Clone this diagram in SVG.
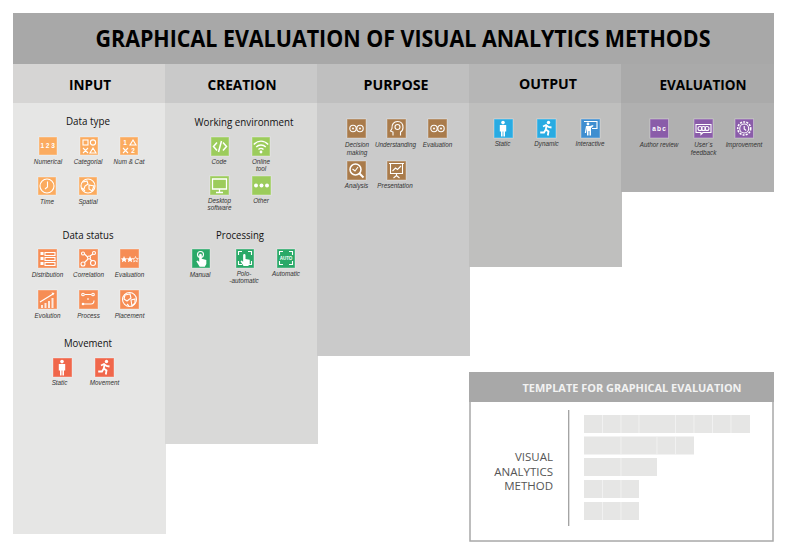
<svg xmlns="http://www.w3.org/2000/svg" width="788" height="558" viewBox="0 0 788 558">
<style>
text{font-family:"Open Sans","Noto Sans","Liberation Sans",sans-serif;fill:#111}
.t{font-weight:700;font-size:22.500px;text-anchor:middle;fill:#000}
.h{font-weight:700;font-size:14px;text-anchor:middle;fill:#000}
.s{font-weight:500;font-size:10.500px;text-anchor:middle;fill:#111}
.l{font-family:"Liberation Sans",Arial,sans-serif;font-style:italic;font-size:6.300px;text-anchor:middle;fill:#333}
.i{stroke:#fff;stroke-opacity:.35;stroke-width:1}
.o1{fill:#fbab5f}.o2{fill:#f68d55}.o3{fill:#f0674b}.g1{fill:#9ccc5c}.g2{fill:#2aa968}.b{fill:#a97b4b}.c{fill:#29abe2}.c2{fill:#3f8ed0}.p{fill:#8a5ca9}
.w{fill:none;stroke:#fff;stroke-width:1.100}
.f{fill:#fff}
.n{fill:#fff;font-family:"Liberation Sans",sans-serif;font-weight:700;font-size:6.500px;text-anchor:middle}
.bar{fill:#e6e6e5}.cut{stroke:#f4f4f4;stroke-width:.8}
</style>
<defs>
<g id="person"><circle class="f" cx="9" cy="3.600" r="1.800"/><path class="f" d="M5.800 6h6.400v6.500h-1.200v5H9.400v-5H8.600v5H7v-5H5.800z"/></g>
<g id="runner"><circle class="f" cx="11.500" cy="3.500" r="1.700"/><path class="w" style="stroke-width:1.800" d="M14.500 8.500 11.500 8 9 6 6 7.500M9.500 6.500 8.800 10.500 11.500 12.500 10.800 16.500M8.800 10.500 7 13.500 3.200 13.500"/></g>
<g id="gears"><circle class="w" cx="5.500" cy="9" r="3.200"/><circle class="w" cx="12.500" cy="9" r="3.200"/><circle class="f" cx="5.500" cy="9" r="1"/><circle class="f" cx="12.500" cy="9" r="1"/></g>
<g id="bracket"><path class="w" d="M2.500 6V2.500H6M12 2.500h3.500V6M15.500 12v3.500H12M6 15.500H2.500V12"/></g>
<g id="hand"><path class="f" d="M7.600 6.500a1 1 0 0 1 2 0v3l3.500.8v3.200l-1.200 2H8L5.400 11.400l1.200-.6 1 1.200z"/></g>
</defs>

<g id="backgrounds">
<rect x="13" y="64" width="153" height="470" fill="#e6e6e5"/>
<rect x="165" y="64" width="153" height="380" fill="#d9d9d8"/>
<rect x="317" y="64" width="153" height="292" fill="#cacaca"/>
<rect x="469" y="64" width="153" height="203" fill="#bfbfbe"/>
<rect x="621" y="64" width="153" height="128" fill="#b0b0b0"/>
<rect x="13" y="64" width="153" height="39" fill="#d6d5d4"/>
<rect x="165" y="64" width="153" height="39" fill="#c9c9c9"/>
<rect x="317" y="64" width="153" height="39" fill="#bfbfbf"/>
<rect x="469" y="64" width="153" height="39" fill="#b6b6b6"/>
<rect x="621" y="64" width="153" height="39" fill="#aaaaaa"/>
<rect x="13" y="13" width="761" height="51" fill="#a8a8a8"/>
</g>

<text class="t" x="403" y="46.500" textLength="615" lengthAdjust="spacingAndGlyphs">GRAPHICAL EVALUATION OF VISUAL ANALYTICS METHODS</text>
<text class="h" x="90" y="90" textLength="42" lengthAdjust="spacingAndGlyphs">INPUT</text>
<text class="h" x="242" y="90" textLength="69" lengthAdjust="spacingAndGlyphs">CREATION</text>
<text class="h" x="396" y="90" textLength="65" lengthAdjust="spacingAndGlyphs">PURPOSE</text>
<text class="h" x="548" y="89" textLength="58" lengthAdjust="spacingAndGlyphs">OUTPUT</text>
<text class="h" x="703" y="90" textLength="87" lengthAdjust="spacingAndGlyphs">EVALUATION</text>

<text class="s" x="88" y="125" textLength="44" lengthAdjust="spacingAndGlyphs">Data type</text>
<text class="s" x="88" y="239" textLength="51" lengthAdjust="spacingAndGlyphs">Data status</text>
<text class="s" x="88" y="347" textLength="48" lengthAdjust="spacingAndGlyphs">Movement</text>
<text class="s" x="244" y="126" textLength="99" lengthAdjust="spacingAndGlyphs">Working environment</text>
<text class="s" x="240" y="239" textLength="48" lengthAdjust="spacingAndGlyphs">Processing</text>

<g id="numerical" transform="translate(39,137)"><rect class="i o1" width="18" height="18"/><text class="n" x="9.500" y="11.300" style="letter-spacing:1.700px">123</text><text class="l" x="9" y="27">Numerical</text></g>
<g id="categorial" transform="translate(80,137)"><rect class="i o1" width="18" height="18"/><rect class="w" x="3" y="3" width="5" height="5"/><circle class="w" cx="13" cy="5.500" r="2.600"/><path class="w" d="M3 11l5 5M8 11l-5 5M13 11l3 5h-6z"/><text class="l" x="8" y="27">Categorial</text></g>
<g id="num-cat" transform="translate(120,137)"><rect class="i o1" width="18" height="18"/><text class="n" x="5" y="8">1</text><path class="w" d="M13 3l3 5h-6z"/><path class="w" d="M3 11l5 5M8 11l-5 5"/><text class="n" x="13" y="16">2</text><text class="l" x="9" y="27">Num &amp; Cat</text></g>
<g id="time" transform="translate(38,177)"><rect class="i o1" width="18" height="18"/><circle class="w" cx="9" cy="9" r="7"/><path class="w" d="M9.500 4.500V10L7 12"/><text class="l" x="9" y="27">Time</text></g>
<g id="spatial" transform="translate(79,177)"><rect class="i o1" width="18" height="18"/><circle class="w" cx="9" cy="9" r="7"/><path class="w" d="M4 5l4-1 1 3-3 2-1 3M10 8l5 1-2 5-3-2zM3 11l3 3"/><text class="l" x="9" y="27">Spatial</text></g>

<g id="distribution" transform="translate(38,249)"><rect class="i o2" width="19" height="19"/><path class="f" d="M2.500 3h3v3h-3zM2.500 8h3v3h-3zM2.500 13h3v3h-3z"/><path class="w" d="M7 3.500h10v3H7zM7 8.500h10v3H7zM7 13.500h10v3H7z"/><text class="l" x="9.500" y="28">Distribution</text></g>
<g id="correlation" transform="translate(79,249)"><rect class="i o2" width="19" height="19"/><circle class="w" cx="4" cy="4.500" r="1.500"/><circle class="w" cx="4" cy="15" r="2"/><circle class="w" cx="14" cy="14" r="2.500"/><circle class="w" cx="15" cy="4" r="1.500"/><circle class="w" cx="10" cy="8.500" r="1.500"/><path class="w" d="M5.500 5l3 3M11 10l2 2M11 7l3-2M5.500 13.500L9 10"/><text class="l" x="9.500" y="28">Correlation</text></g>
<g id="status-evaluation" transform="translate(120,249)"><rect class="i o2" width="19" height="19"/><path class="f" d="M4 7l1 2.300 2.300.2-1.700 1.500.5 2.300L4 12l-2.100 1.300.5-2.300L.8 9.500l2.300-.2zM10 7l1 2.300 2.300.2-1.700 1.500.5 2.300L10 12l-2.100 1.300.5-2.300-1.700-1.500 2.300-.2z"/><path class="w" style="stroke-width:.7" d="M15.500 7.500l.8 2 2 .1-1.500 1.300.5 2-1.800-1.100-1.800 1.100.5-2-1.500-1.300 2-.1z"/><text class="l" x="9.500" y="28">Evaluation</text></g>
<g id="evolution" transform="translate(38,290)"><rect class="i o2" width="19" height="19"/><path class="f" opacity=".8" d="M3 15h2v3H3zM6.500 13h2v5h-2zM10 11h2v7h-2zM13.500 8h2v10h-2z"/><path class="w" d="M2 12L15 4"/><path class="f" d="M16.500 3l-3-.5 1.500 3z"/><text class="l" x="9.500" y="28">Evolution</text></g>
<g id="process" transform="translate(79,290)"><rect class="i o2" width="19" height="19"/><circle class="w" cx="4" cy="4.500" r="1.300"/><circle class="w" cx="14" cy="4.500" r="1.300"/><path class="w" d="M6 4.500h6M9 8v2M5 14h7c2 0 3-1.500 3-3.500"/><circle class="f" cx="4" cy="14" r="1.300"/><text class="l" x="9.500" y="28">Process</text></g>
<g id="placement" transform="translate(120,290)"><rect class="i o2" width="19" height="19"/><circle class="w" cx="9.500" cy="9.500" r="7"/><path class="w" d="M5 5l5-1 1 4-4 3-3-2zM11 10l4-1 0 4-3 3zM7 14l2 2"/><text class="l" x="9.500" y="28">Placement</text></g>

<g id="move-static" transform="translate(53,358)"><rect class="i o3" width="19" height="19"/><use href="#person"/><text class="l" x="6.500" y="27">Static</text></g>
<g id="move-movement" transform="translate(95,358)"><rect class="i o3" width="19" height="19"/><use href="#runner"/><text class="l" x="9.500" y="27">Movement</text></g>

<g id="code" transform="translate(211,137)"><rect class="i g1" width="18" height="19"/><path class="w" style="stroke-width:1.500" d="M6 5.500L2.500 9.500 6 13.500M12 5.500l3.500 4-3.500 4M10.500 4L7.500 15"/><text class="l" x="8" y="27">Code</text></g>
<g id="online-tool" transform="translate(252,137)"><rect class="i g1" width="18" height="19"/><path class="w" style="stroke-width:1.400" d="M1.800 7.500C6 3 12 3 16.200 7.500M4.200 10C7 7.300 11 7.300 13.800 10M6.500 12.500C8 11 10 11 11.500 12.500"/><circle class="f" cx="9" cy="15" r="1.400"/><text class="l" x="9" y="27">Online</text><text class="l" x="9" y="34.300">tool</text></g>
<g id="desktop" transform="translate(210,176)"><rect class="i g1" width="19" height="19"/><path class="w" style="stroke-width:1.300" d="M2.500 3h14v10h-14zM9.500 13v3M6 16.500h7"/><text class="l" x="9.500" y="27">Desktop</text><text class="l" x="9.500" y="34.300">software</text></g>
<g id="other" transform="translate(252,176)"><rect class="i g1" width="19" height="19"/><circle class="f" cx="4" cy="9.500" r="2"/><circle class="f" cx="9.500" cy="9.500" r="2"/><circle class="f" cx="15" cy="9.500" r="2"/><text class="l" x="9" y="27">Other</text></g>

<g id="manual" transform="translate(192,249)"><rect class="i g2" width="18" height="19"/><circle class="w" cx="8.500" cy="5.500" r="3"/><use href="#hand" transform="translate(-2.700,-2.500) scale(1.300)"/><text class="l" x="8" y="28">Manual</text></g>
<g id="semi-automatic" transform="translate(236,249)"><rect class="i g2" width="18" height="19"/><use href="#bracket"/><use href="#hand" transform="translate(-2,-1.500) scale(1.200)"/><text class="l" x="8" y="27">Polo-</text><text class="l" x="8" y="34.300">-automatic</text></g>
<g id="automatic" transform="translate(277,249)"><rect class="i g2" width="18" height="19"/><use href="#bracket"/><text class="n" x="9" y="11" style="font-size:4.500px">AUTO</text><text class="l" x="9" y="27">Automatic</text></g>

<g id="decision-making" transform="translate(347,119)"><rect class="i b" width="19" height="19"/><use href="#gears" x=".5" y=".5"/><text class="l" x="10" y="28">Decision</text><text class="l" x="10" y="36">making</text></g>
<g id="understanding" transform="translate(387,119)"><rect class="i b" width="19" height="19"/><path class="w" d="M6 16.500v-3.500L3.500 12 5 9.500C4.500 5 7 2.500 10.500 2.500 14 2.500 16 5 16 8.500c0 2.500-1.500 4-2.500 4.500v3.500"/><circle class="w" cx="10.500" cy="8" r="2.500"/><text class="l" x="8.500" y="28">Understanding</text></g>
<g id="purpose-evaluation" transform="translate(428,119)"><rect class="i b" width="19" height="19"/><use href="#gears" x=".5" y=".5"/><text class="l" x="9.500" y="28">Evaluation</text></g>
<g id="analysis" transform="translate(347,161)"><rect class="i b" width="19" height="19"/><circle class="w" style="stroke-width:1.500" cx="8.500" cy="8.500" r="5.500"/><path class="w" style="stroke-width:2" d="M12.500 12.500L16.500 16.500"/><path class="w" d="M5.500 8l2.500 2 3-4"/><text class="l" x="9.500" y="27">Analysis</text></g>
<g id="presentation" transform="translate(387,161)"><rect class="i b" width="19" height="19"/><path class="w" d="M2 2.500h15M3.500 2.500v10h12v-10M9.500 12.500v2M6.500 17l3-2.500 3 2.500M5.500 10l3-3 2 1.500 3.500-3.500"/><text class="l" x="8" y="27">Presentation</text></g>

<g id="output-static" transform="translate(494,119)"><rect class="i c" width="19" height="19"/><use href="#person"/><text class="l" x="8.500" y="27">Static</text></g>
<g id="output-dynamic" transform="translate(537,119)"><rect class="i c" width="19" height="19"/><use href="#runner"/><text class="l" x="9.500" y="27">Dynamic</text></g>
<g id="output-interactive" transform="translate(581,119)"><rect class="i c2" width="19" height="19"/><path class="w" d="M3 2.500h13v7h-5"/><circle class="f" cx="7" cy="5" r="1.400"/><path class="f" d="M5 7h4l3-1 .5 1L10 9v7.500H8.500V12h-1v4.500H6V9L5 14H3.800z"/><text class="l" x="9" y="27">Interactive</text></g>

<g id="author-review" transform="translate(650,119)"><rect class="i p" width="18.500" height="19"/><text class="n" x="9.700" y="11.500" style="letter-spacing:1.200px;font-size:6.500px">abc</text><text class="l" x="9" y="27.500">Author review</text></g>
<g id="users-feedback" transform="translate(694,119)"><rect class="i p" width="19" height="19"/><path class="w" d="M2 5.500h15v8H9l-2 2v-2H2z"/><circle class="w" cx="6" cy="9.500" r="2"/><circle class="w" cx="9.500" cy="9.500" r="2"/><circle class="w" cx="13" cy="9.500" r="2"/><text class="l" x="9.500" y="27.500">User´s</text><text class="l" x="9.500" y="35.500">feedback</text></g>
<g id="improvement" transform="translate(735,119)"><rect class="i p" width="18.500" height="19"/><circle class="w" style="stroke-width:1.600;stroke-dasharray:2 1.200" cx="9.200" cy="9.500" r="6.500"/><circle class="w" cx="9.200" cy="9.500" r="4.500"/><path class="w" d="M9.200 7v3l2 1.500"/><text class="l" x="9" y="27.500">Improvement</text></g>

<g id="template">
<rect x="470" y="373" width="303" height="168" fill="#fff" stroke="#a8a8a8" stroke-width="1.500"/>
<rect x="469" y="372" width="305" height="30" fill="#a8a8a8"/>
<text x="632" y="391.500" text-anchor="middle" font-weight="700" font-size="10.500" style="fill:#f2f2f2" textLength="219" lengthAdjust="spacingAndGlyphs">TEMPLATE FOR GRAPHICAL EVALUATION</text>
<text x="553" y="461" text-anchor="end" font-size="11.500" style="fill:#555">VISUAL</text>
<text x="553" y="476" text-anchor="end" font-size="11.500" style="fill:#555">ANALYTICS</text>
<text x="553" y="490" text-anchor="end" font-size="11.500" style="fill:#555">METHOD</text>
<path d="M568.700 410V526" stroke="#a0a0a0" stroke-width="1.300" fill="none"/>
<rect class="bar" x="584" y="415" width="166" height="18"/>
<rect class="bar" x="584" y="436.500" width="110" height="18"/>
<rect class="bar" x="584" y="458" width="73" height="18"/>
<rect class="bar" x="584" y="480" width="55" height="18"/>
<rect class="bar" x="584" y="502" width="55" height="18"/>
<path class="cut" d="M602.500 415v18M621 415v18M639 415v18M675.500 415v18M694 415v18M712.500 415v18M731 415v18M621 436.500v18M657 436.500v18M675.500 436.500v18M621 458v18M602.500 480v18M621 480v18M602.500 502v18M621 502v18"/>
</g>
</svg>
